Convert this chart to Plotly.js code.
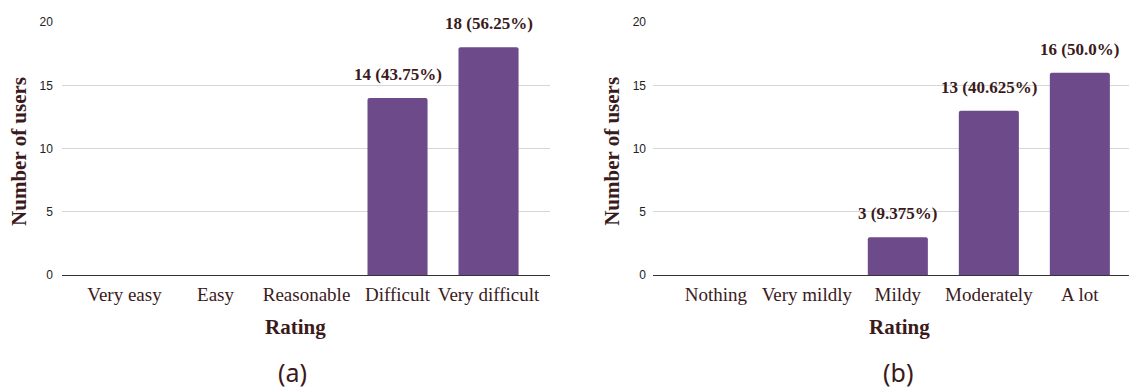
<!DOCTYPE html>
<html>
<head>
<meta charset="utf-8">
<script src="https://cdn.plot.ly/plotly-3.0.1.min.js"></script>
<style>
  html, body { margin: 0; padding: 0; background: #fff; }
  #chart { width: 1129px; height: 388px; }
</style>
</head>
<body>
<div id="chart"></div>
<script>
// (a) perceived difficulty
const ratingsA = ['Very easy', 'Easy', 'Reasonable', 'Difficult', 'Very difficult'];
const usersA = [0, 0, 0, 14, 18];
// (b) perceived impact
const ratingsB = ['Nothing', 'Very mildly', 'Mildy', 'Moderately', 'A lot'];
const usersB = [0, 0, 3, 13, 16];
const panelCaptions = ['(a)', '(b)'];

const BAR = '#6d4a89';
const INK = '#3b1a1c';
const SERIF = 'Liberation Serif, serif';

function pctText(v, total) {
  const p = v / total * 100;
  return Number.isInteger(p) ? p.toFixed(1) : String(p);
}

function valueLabels(cats, vals, xref, yref) {
  const total = vals.reduce((a, b) => a + b, 0);
  const out = [];
  vals.forEach((v, i) => {
    if (v <= 0) return;
    out.push({
      x: cats[i], y: v, xref: xref, yref: yref,
      text: '<b>' + v + ' (' + pctText(v, total) + '%)</b>',
      showarrow: false, yanchor: 'bottom', yshift: 12,
      font: { family: SERIF, size: 17, color: INK }
    });
  });
  return out;
}

const traces = [
  { type: 'bar', x: ratingsA, y: usersA, xaxis: 'x', yaxis: 'y',
    marker: { color: BAR, cornerradius: 2 }, width: 0.66, hoverinfo: 'x+y' },
  { type: 'bar', x: ratingsB, y: usersB, xaxis: 'x2', yaxis: 'y2',
    marker: { color: BAR, cornerradius: 2 }, width: 0.66, hoverinfo: 'x+y' }
];

const yCommon = {
  range: [0, 20], dtick: 5, domain: [0.2905, 0.9433],
  showgrid: true, gridcolor: '#d6d6d6', gridwidth: 1,
  zeroline: true, zerolinecolor: '#333333', zerolinewidth: 1,
  showline: false, ticks: '', ticklabelstandoff: 8,
  tickfont: { family: 'Liberation Sans, Arial, sans-serif', size: 12, color: '#222' },
  fixedrange: true
};
const xCommon = {
  type: 'category', showgrid: false, zeroline: false, showline: false,
  ticks: '', ticklabelstandoff: 6,
  tickfont: { family: SERIF, size: 19, color: INK },
  fixedrange: true
};

function titleAnn(text, x, y, angle) {
  return { text: '<b>' + text + '</b>', xref: 'paper', yref: 'paper', x: x, y: y,
    xanchor: 'center', yanchor: 'middle', showarrow: false, textangle: angle || 0,
    font: { family: SERIF, size: 21, color: INK } };
}
function captionAnn(text, x) {
  return { text: text, xref: 'paper', yref: 'paper', x: x, y: 0.041,
    xanchor: 'center', yanchor: 'middle', showarrow: false,
    font: { family: 'Noto Sans, sans-serif', size: 25, color: INK } };
}

const layout = {
  width: 1129, height: 388,
  margin: { l: 0, r: 0, t: 0, b: 0 },
  paper_bgcolor: '#fff', plot_bgcolor: '#fff',
  showlegend: false,
  xaxis: Object.assign({}, xCommon, { domain: [0.0549, 0.4872], range: [-0.687, 4.676], anchor: 'y' }),
  yaxis: Object.assign({}, yCommon, { anchor: 'x' }),
  xaxis2: Object.assign({}, xCommon, { domain: [0.5784, 1], range: [-0.69, 4.54], anchor: 'y2' }),
  yaxis2: Object.assign({}, yCommon, { anchor: 'x2', ticklabelstandoff: 6 }),
  annotations: [].concat(
    valueLabels(ratingsA, usersA, 'x', 'y'),
    valueLabels(ratingsB, usersB, 'x2', 'y2'),
    [
      titleAnn('Number of users', 0.0168, 0.611, -90),
      titleAnn('Number of users', 0.542, 0.611, -90),
      titleAnn('Rating', 0.2613, 0.157),
      titleAnn('Rating', 0.7963, 0.157),
      captionAnn(panelCaptions[0], 0.2595),
      captionAnn(panelCaptions[1], 0.7954)
    ]
  )
};

Plotly.newPlot('chart', traces, layout, { displayModeBar: false, staticPlot: true });
</script>
</body>
</html>
